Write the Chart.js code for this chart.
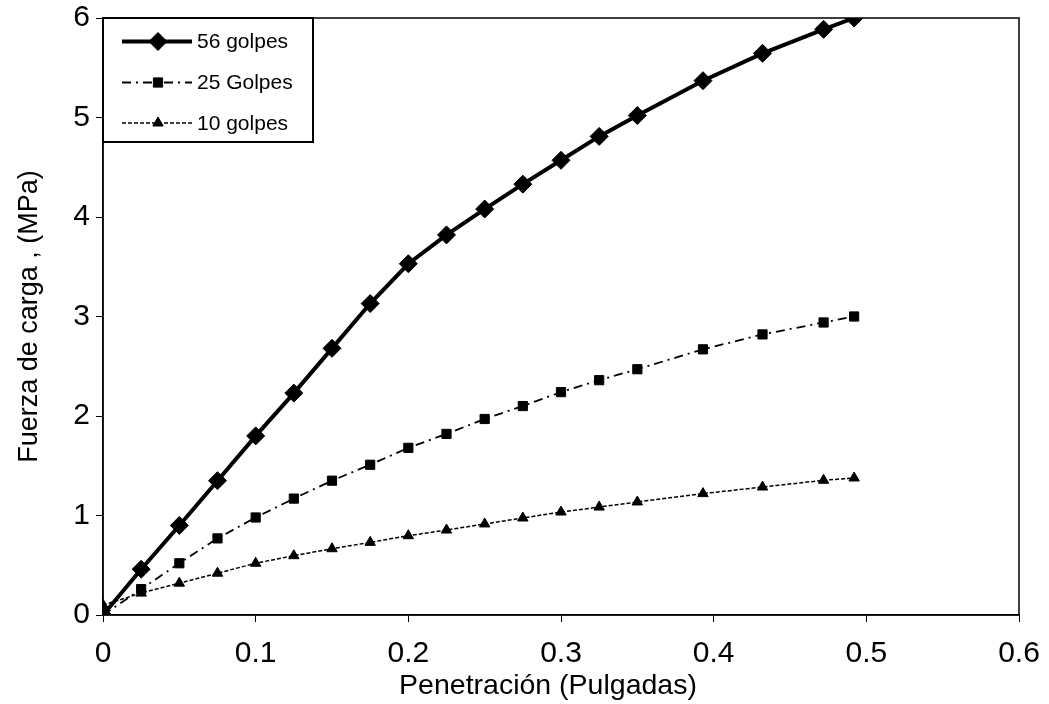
<!DOCTYPE html>
<html>
<head>
<meta charset="utf-8">
<script src="https://cdn.jsdelivr.net/npm/chart.js@4.4.1/dist/chart.umd.min.js"></script>
<style>
  html, body { margin: 0; padding: 0; background: #fff; }
  #wrap { width: 1049px; height: 704px; }
</style>
</head>
<body>
<div id="wrap"><canvas id="myChart" width="1049" height="704"></canvas></div>
<script>
// penetration readings (inches), same for all three series
const penetracion = [0, 0.025, 0.05, 0.075, 0.1, 0.125, 0.15, 0.175, 0.2, 0.225, 0.25, 0.275, 0.3, 0.325, 0.35, 0.393, 0.432, 0.472, 0.492];

// load (MPa)
const golpes56 = [0, 0.46, 0.9, 1.35, 1.8, 2.23, 2.68, 3.13, 3.53, 3.82, 4.08, 4.33, 4.57, 4.81, 5.02, 5.37, 5.645, 5.886, 6.0];
const golpes25 = [0, 0.26, 0.52, 0.77, 0.98, 1.17, 1.35, 1.51, 1.68, 1.82, 1.97, 2.1, 2.24, 2.36, 2.47, 2.67, 2.82, 2.94, 3.0];
const golpes10 = [0.1, 0.22, 0.32, 0.42, 0.52, 0.596, 0.666, 0.73, 0.797, 0.854, 0.915, 0.975, 1.035, 1.085, 1.136, 1.22, 1.286, 1.354, 1.377];

const seriesNames = ["56 golpes", "25 Golpes", "10 golpes"];
const xTicks = [0, 0.1, 0.2, 0.3, 0.4, 0.5, 0.6];
const yTicks = [0, 1, 2, 3, 4, 5, 6];
const xTitle = "Penetración (Pulgadas)";
const yTitle = "Fuerza de carga , (MPa)";

const FONT = "'Liberation Sans', Arial, sans-serif";
Chart.defaults.font.family = FONT;
Chart.defaults.color = "#000";

function toPoints(ys) {
  return penetracion.map((x, i) => ({ x: x, y: ys[i] }));
}

// frame round the plot, x title (sits a bit left of centre) and boxed legend
const boxLegend = {
  id: "boxLegend",
  afterDraw(chart) {
    const ctx = chart.ctx;
    const a = chart.chartArea;
    ctx.save();
    ctx.strokeStyle = "#000";
    ctx.lineWidth = 1.5;
    ctx.strokeRect(a.left, a.top, a.right - a.left, a.bottom - a.top);

    ctx.fillStyle = "#000";
    ctx.font = "28.5px " + FONT;
    ctx.textAlign = "center";
    ctx.textBaseline = "middle";
    ctx.fillText(xTitle, 548, 686);

    // legend box
    const bx = a.left, by = a.top, bw = 210, bh = 124;
    ctx.fillStyle = "#fff";
    ctx.fillRect(bx, by, bw, bh);
    ctx.lineWidth = 2;
    ctx.strokeRect(bx, by, bw, bh);

    const rows = [41.5, 82.5, 123];
    chart.data.datasets.forEach((ds, i) => {
      const y = rows[i];
      ctx.strokeStyle = "#000";
      ctx.fillStyle = "#000";
      ctx.lineWidth = ds.borderWidth;
      ctx.setLineDash(ds.borderDash || []);
      ctx.beginPath();
      ctx.moveTo(122, y);
      ctx.lineTo(192, y);
      ctx.stroke();
      ctx.setLineDash([]);
      ctx.lineWidth = ds.pointBorderWidth;
      Chart.helpers.drawPoint(ctx, {
        pointStyle: ds.pointStyle,
        radius: ds.pointRadius,
        borderWidth: ds.pointBorderWidth
      }, 158, y);
      ctx.font = "21px " + FONT;
      ctx.textBaseline = "middle";
      ctx.textAlign = "left";
      ctx.fillText(ds.label, 197, y + 1);
    });
    ctx.restore();
  }
};

const config = {
  type: "scatter",
  data: {
    datasets: [
      {
        label: seriesNames[0],
        data: toPoints(golpes56),
        showLine: true,
        borderColor: "#000",
        backgroundColor: "#000",
        borderWidth: 4,
        pointStyle: "rectRot",
        pointRadius: 9,
        pointBorderWidth: 1,
        pointBackgroundColor: "#000",
        pointBorderColor: "#000",
      },
      {
        label: seriesNames[1],
        data: toPoints(golpes25),
        showLine: true,
        borderColor: "#000",
        backgroundColor: "#000",
        borderWidth: 1.8,
        borderDash: [9, 5, 2, 5],
        pointStyle: "rect",
        pointRadius: 6.5,
        pointBorderWidth: 1,
        pointBackgroundColor: "#000",
        pointBorderColor: "#000",
      },
      {
        label: seriesNames[2],
        data: toPoints(golpes10),
        showLine: true,
        borderColor: "#000",
        backgroundColor: "#000",
        borderWidth: 1.5,
        borderDash: [4, 2],
        pointStyle: "triangle",
        pointRadius: 6,
        pointBorderWidth: 1,
        pointBackgroundColor: "#000",
        pointBorderColor: "#000",
      },
    ],
  },
  options: {
    responsive: false,
    animation: false,
    layout: { padding: { top: 18, right: 30, left: 0, bottom: 0 } },
    plugins: {
      legend: { display: false },
      tooltip: { enabled: false },
    },
    elements: { line: { tension: 0 } },
    scales: {
      x: {
        type: "linear",
        min: 0,
        max: 0.6,
        afterBuildTicks: (scale) => { scale.ticks = xTicks.map(v => ({ value: v })); },
        afterFit: (scale) => {
          scale.height = 89;
          scale.paddingLeft = 0;
          scale.paddingRight = 0;
        },
        ticks: {
          font: { size: 30 },
          padding: 14,
          callback: (v) => String(Math.round(v * 10) / 10),
        },
        grid: { drawOnChartArea: false, drawTicks: true, tickLength: 7, color: "#000", lineWidth: 1 },
        border: { display: true, color: "#000", width: 1.5 },
        title: { display: false },
      },
      y: {
        type: "linear",
        min: 0,
        max: 6,
        afterBuildTicks: (scale) => { scale.ticks = yTicks.map(v => ({ value: v })); },
        afterFit: (scale) => {
          scale.width = 103;
          scale.paddingTop = 0;
          scale.paddingBottom = 0;
        },
        ticks: {
          font: { size: 30 },
          padding: 6,
        },
        grid: { drawOnChartArea: false, drawTicks: true, tickLength: 7, color: "#000", lineWidth: 1 },
        border: { display: true, color: "#000", width: 1.5 },
        title: {
          display: true,
          text: yTitle,
          font: { size: 27 },
          padding: 13,
        },
      },
    },
  },
  plugins: [boxLegend],
};

const myChart = new Chart(document.getElementById("myChart"), config);
</script>
</body>
</html>
